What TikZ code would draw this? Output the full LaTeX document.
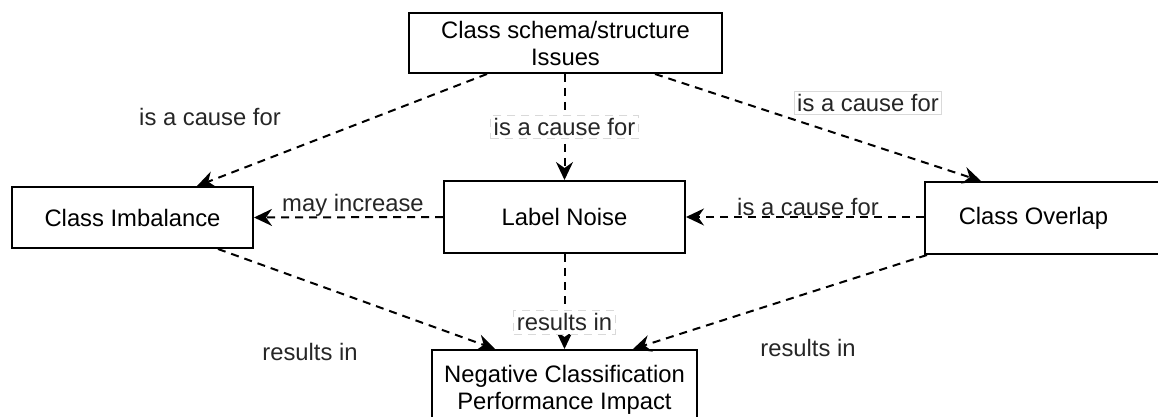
\documentclass[tikz,border=0pt]{standalone}
\usepackage{fontspec}
\setmainfont{Liberation Sans}
\usetikzlibrary{arrows.meta,calc}
\tikzset{
  box/.style={draw=black, line width=1pt, fill=white, inner sep=0pt, align=center,
    font=\fontsize{11.9}{13.5}\selectfont},
  conn/.style={draw=black, line width=1pt, dash pattern=on 4pt off 3pt,
    -{Stealth[length=9pt, width=8.5pt, inset=3pt]}},
  lbl/.style={font=\fontsize{11.9}{13.5}\selectfont, inner sep=1pt, text=black!85},
  lblbox/.style={lbl, fill=white, draw=black!15, line width=0.4pt, inner sep=1.5pt},
}
\begin{document}
\begin{tikzpicture}[x=0.5pt, y=-0.5pt]
  \useasboundingbox (0,0) rectangle (1158,417);
  \clip (0,0) rectangle (1158,417);

  % concept boxes
  \node[box, minimum width=156.5pt, minimum height=30pt] (top) at (565.5,43)
    {Class schema/structure\\Issues};
  \node[box, minimum width=120.5pt, minimum height=30.5pt] (imb) at (132.5,217.5)
    {Class Imbalance};
  \node[box, minimum width=120.5pt, minimum height=36pt] (noise) at (564.5,217)
    {Label Noise};
  \node[box, minimum width=122.5pt, minimum height=36pt] (over) at (1047.5,218)
    {\hspace*{-14pt}Class Overlap};
  \node[box, minimum width=132.5pt, minimum height=40pt, anchor=north] (neg) at (564.5,349)
    {\raisebox{-7pt}{\parbox{132pt}{\centering Negative Classification\\Performance Impact}}};

  % causes from the schema issues
  \draw[conn] ($(top.south)+(-78.5,0)$) -- ($(imb.north)+(64.5,0)$);
  \node[lbl] (l1) at (210,117) {is a cause for};
  \draw[conn] (top.south -| noise.north) -- (noise.north)
    node[pos=0.5, lblbox] (l2) {is a cause for};
  \draw[conn] ($(top.south)+(89.5,0)$) -- ($(over.north west)+(57,0)$);
  \node[lblbox] (l3) at (868,103) {is a cause for};

  % relations between the three problems
  \draw[conn] (noise.west) -- (imb.east);
  \node[lbl] (l4) at (353,205) {may increase};
  \draw[conn] (over.west |- noise.east) -- (noise.east);
  \node[lbl] (l5) at (808,207) {is a cause for};

  % consequences
  \draw[conn] ($(imb.south)+(85.5,0)$) -- ($(neg.north)+(-69.5,0)$);
  \node[lbl] (l6) at (310,352) {results in};
  \draw[conn] (noise.south) -- (neg.north)
    node[pos=0.72, lblbox] (l7) {results in};
  \draw[conn] ($(over.south west)+(3,0)$) -- ($(neg.north)+(68.5,0)$);
  \node[lbl] (l8) at (808,348) {results in};
\end{tikzpicture}
\end{document}
